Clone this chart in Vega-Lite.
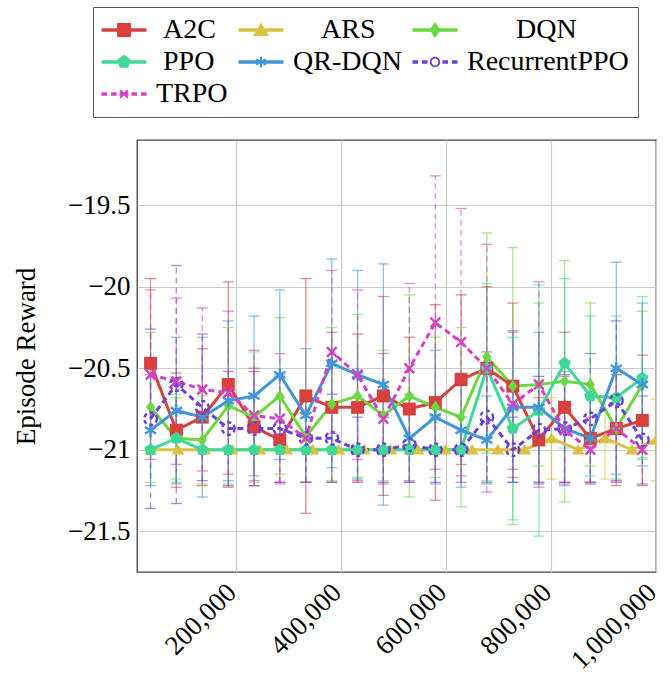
{
"$schema": "https://vega.github.io/schema/vega-lite/v6.json",
"width": 519, "height": 432,
"autosize": {"type": "none"},
"padding": {"left": 137, "top": 140, "right": 15, "bottom": 103},
"background": "white",
"config": {"view": {"stroke": "#444444", "strokeWidth": 1.3}},
"datasets": {"d": [
{"a":"A2C","s":38000,"r":-20.47,"lo":-20.99,"hi":-19.95},
{"a":"A2C","s":87000,"r":-20.88,"lo":-21.23,"hi":-20.53},
{"a":"A2C","s":136500,"r":-20.80,"lo":-21.22,"hi":-20.38},
{"a":"A2C","s":186000,"r":-20.60,"lo":-21.23,"hi":-19.97},
{"a":"A2C","s":235000,"r":-20.86,"lo":-21.22,"hi":-20.50},
{"a":"A2C","s":284000,"r":-20.94,"lo":-21.20,"hi":-20.68},
{"a":"A2C","s":333500,"r":-20.67,"lo":-21.39,"hi":-19.95},
{"a":"A2C","s":383000,"r":-20.74,"lo":-21.20,"hi":-20.28},
{"a":"A2C","s":432000,"r":-20.74,"lo":-21.19,"hi":-20.29},
{"a":"A2C","s":481000,"r":-20.67,"lo":-21.28,"hi":-20.06},
{"a":"A2C","s":530500,"r":-20.75,"lo":-21.19,"hi":-20.31},
{"a":"A2C","s":580000,"r":-20.71,"lo":-21.31,"hi":-20.11},
{"a":"A2C","s":629000,"r":-20.57,"lo":-21.09,"hi":-20.05},
{"a":"A2C","s":678000,"r":-20.50,"lo":-21.00,"hi":-20.00},
{"a":"A2C","s":727500,"r":-20.61,"lo":-21.12,"hi":-20.10},
{"a":"A2C","s":777000,"r":-20.94,"lo":-21.20,"hi":-20.68},
{"a":"A2C","s":826000,"r":-20.74,"lo":-21.20,"hi":-20.28},
{"a":"A2C","s":875000,"r":-20.93,"lo":-21.20,"hi":-20.66},
{"a":"A2C","s":924500,"r":-20.87,"lo":-21.22,"hi":-20.52},
{"a":"A2C","s":974000,"r":-20.82,"lo":-21.22,"hi":-20.42},
{"a":"ARS","s":38000,"r":-21,"lo":-21,"hi":-21},
{"a":"ARS","s":90000,"r":-21,"lo":-21,"hi":-21},
{"a":"ARS","s":141000,"r":-21,"lo":-21,"hi":-21},
{"a":"ARS","s":193000,"r":-21,"lo":-21,"hi":-21},
{"a":"ARS","s":246000,"r":-21,"lo":-21,"hi":-21},
{"a":"ARS","s":297000,"r":-21,"lo":-21,"hi":-21},
{"a":"ARS","s":347000,"r":-21,"lo":-21,"hi":-21},
{"a":"ARS","s":396000,"r":-21,"lo":-21,"hi":-21},
{"a":"ARS","s":445000,"r":-21,"lo":-21,"hi":-21},
{"a":"ARS","s":495000,"r":-21,"lo":-21,"hi":-21},
{"a":"ARS","s":547000,"r":-21,"lo":-21,"hi":-21},
{"a":"ARS","s":599000,"r":-21,"lo":-21,"hi":-21},
{"a":"ARS","s":650000,"r":-21,"lo":-21,"hi":-21},
{"a":"ARS","s":699000,"r":-21,"lo":-21,"hi":-21},
{"a":"ARS","s":750000,"r":-21,"lo":-21,"hi":-21},
{"a":"ARS","s":801000,"r":-20.93,"lo":-21.18,"hi":-20.68},
{"a":"ARS","s":852000,"r":-21,"lo":-21,"hi":-21},
{"a":"ARS","s":903000,"r":-20.93,"lo":-21.18,"hi":-20.68},
{"a":"ARS","s":954000,"r":-21,"lo":-21,"hi":-21},
{"a":"ARS","s":1000000,"r":-20.94,"lo":-21.19,"hi":-20.69},
{"a":"DQN","s":38000,"r":-20.74,"lo":-21.20,"hi":-20.28},
{"a":"DQN","s":87000,"r":-20.93,"lo":-21.18,"hi":-20.68},
{"a":"DQN","s":136500,"r":-20.94,"lo":-21.21,"hi":-20.67},
{"a":"DQN","s":186000,"r":-20.73,"lo":-21.21,"hi":-20.25},
{"a":"DQN","s":235000,"r":-20.80,"lo":-21.20,"hi":-20.40},
{"a":"DQN","s":284000,"r":-20.67,"lo":-21.15,"hi":-20.19},
{"a":"DQN","s":333500,"r":-20.92,"lo":-21.20,"hi":-20.64},
{"a":"DQN","s":383000,"r":-20.72,"lo":-21.19,"hi":-20.25},
{"a":"DQN","s":432000,"r":-20.67,"lo":-21.17,"hi":-20.17},
{"a":"DQN","s":481000,"r":-20.79,"lo":-21.19,"hi":-20.39},
{"a":"DQN","s":530500,"r":-20.67,"lo":-21.29,"hi":-20.05},
{"a":"DQN","s":580000,"r":-20.74,"lo":-21.17,"hi":-20.31},
{"a":"DQN","s":629000,"r":-20.80,"lo":-21.35,"hi":-20.25},
{"a":"DQN","s":678000,"r":-20.43,"lo":-21.19,"hi":-19.67},
{"a":"DQN","s":727500,"r":-20.61,"lo":-21.46,"hi":-19.76},
{"a":"DQN","s":777000,"r":-20.60,"lo":-21.10,"hi":-20.10},
{"a":"DQN","s":826000,"r":-20.58,"lo":-21.32,"hi":-19.84},
{"a":"DQN","s":875000,"r":-20.60,"lo":-21.10,"hi":-20.10},
{"a":"DQN","s":924500,"r":-20.87,"lo":-21.20,"hi":-20.54},
{"a":"DQN","s":974000,"r":-20.60,"lo":-21.05,"hi":-20.15},
{"a":"PPO","s":38000,"r":-21,"lo":-21,"hi":-21},
{"a":"PPO","s":87000,"r":-20.93,"lo":-21.20,"hi":-20.66},
{"a":"PPO","s":136500,"r":-21,"lo":-21,"hi":-21},
{"a":"PPO","s":186000,"r":-21,"lo":-21,"hi":-21},
{"a":"PPO","s":235000,"r":-21,"lo":-21,"hi":-21},
{"a":"PPO","s":284000,"r":-21,"lo":-21,"hi":-21},
{"a":"PPO","s":333500,"r":-21,"lo":-21,"hi":-21},
{"a":"PPO","s":383000,"r":-21,"lo":-21,"hi":-21},
{"a":"PPO","s":432000,"r":-21,"lo":-21,"hi":-21},
{"a":"PPO","s":481000,"r":-21,"lo":-21,"hi":-21},
{"a":"PPO","s":530500,"r":-21,"lo":-21,"hi":-21},
{"a":"PPO","s":580000,"r":-21,"lo":-21,"hi":-21},
{"a":"PPO","s":629000,"r":-21,"lo":-21,"hi":-21},
{"a":"PPO","s":678000,"r":-20.50,"lo":-21.02,"hi":-19.98},
{"a":"PPO","s":727500,"r":-20.87,"lo":-21.43,"hi":-20.31},
{"a":"PPO","s":777000,"r":-20.76,"lo":-21.53,"hi":-19.99},
{"a":"PPO","s":826000,"r":-20.47,"lo":-20.99,"hi":-19.95},
{"a":"PPO","s":875000,"r":-20.67,"lo":-21.16,"hi":-20.18},
{"a":"PPO","s":924500,"r":-20.68,"lo":-21.18,"hi":-20.18},
{"a":"PPO","s":974000,"r":-20.56,"lo":-21.06,"hi":-20.06},
{"a":"QR-DQN","s":38000,"r":-20.88,"lo":-21.22,"hi":-20.54},
{"a":"QR-DQN","s":87000,"r":-20.76,"lo":-21.21,"hi":-20.31},
{"a":"QR-DQN","s":136500,"r":-20.80,"lo":-21.29,"hi":-20.31},
{"a":"QR-DQN","s":186000,"r":-20.70,"lo":-21.19,"hi":-20.21},
{"a":"QR-DQN","s":235000,"r":-20.67,"lo":-21.16,"hi":-20.18},
{"a":"QR-DQN","s":284000,"r":-20.54,"lo":-21.06,"hi":-20.02},
{"a":"QR-DQN","s":333500,"r":-20.79,"lo":-21.20,"hi":-20.38},
{"a":"QR-DQN","s":383000,"r":-20.47,"lo":-21.11,"hi":-19.83},
{"a":"QR-DQN","s":432000,"r":-20.54,"lo":-21.18,"hi":-19.90},
{"a":"QR-DQN","s":481000,"r":-20.60,"lo":-21.34,"hi":-19.86},
{"a":"QR-DQN","s":530500,"r":-20.93,"lo":-21.20,"hi":-20.66},
{"a":"QR-DQN","s":580000,"r":-20.80,"lo":-21.21,"hi":-20.39},
{"a":"QR-DQN","s":629000,"r":-20.88,"lo":-21.23,"hi":-20.53},
{"a":"QR-DQN","s":678000,"r":-20.94,"lo":-21.21,"hi":-20.67},
{"a":"QR-DQN","s":727500,"r":-20.74,"lo":-21.20,"hi":-20.28},
{"a":"QR-DQN","s":777000,"r":-20.74,"lo":-21.20,"hi":-20.28},
{"a":"QR-DQN","s":826000,"r":-20.87,"lo":-21.22,"hi":-20.52},
{"a":"QR-DQN","s":875000,"r":-20.93,"lo":-21.20,"hi":-20.66},
{"a":"QR-DQN","s":924500,"r":-20.50,"lo":-21.15,"hi":-19.85},
{"a":"QR-DQN","s":974000,"r":-20.60,"lo":-21.10,"hi":-20.10},
{"a":"RecurrentPPO","s":38000,"r":-20.81,"lo":-21.36,"hi":-20.26},
{"a":"RecurrentPPO","s":87000,"r":-20.60,"lo":-21.33,"hi":-19.87},
{"a":"RecurrentPPO","s":136500,"r":-20.74,"lo":-21.19,"hi":-20.29},
{"a":"RecurrentPPO","s":186000,"r":-20.87,"lo":-21.22,"hi":-20.52},
{"a":"RecurrentPPO","s":235000,"r":-20.87,"lo":-21.22,"hi":-20.52},
{"a":"RecurrentPPO","s":284000,"r":-20.87,"lo":-21.20,"hi":-20.54},
{"a":"RecurrentPPO","s":333500,"r":-20.93,"lo":-21.20,"hi":-20.66},
{"a":"RecurrentPPO","s":383000,"r":-20.93,"lo":-21.20,"hi":-20.66},
{"a":"RecurrentPPO","s":432000,"r":-21.00,"lo":-21.20,"hi":-20.80},
{"a":"RecurrentPPO","s":481000,"r":-21.00,"lo":-21.20,"hi":-20.80},
{"a":"RecurrentPPO","s":530500,"r":-20.97,"lo":-21.20,"hi":-20.74},
{"a":"RecurrentPPO","s":580000,"r":-21.00,"lo":-21.20,"hi":-20.80},
{"a":"RecurrentPPO","s":629000,"r":-21.00,"lo":-21.20,"hi":-20.80},
{"a":"RecurrentPPO","s":678000,"r":-20.80,"lo":-21.20,"hi":-20.40},
{"a":"RecurrentPPO","s":727500,"r":-21.00,"lo":-21.20,"hi":-20.80},
{"a":"RecurrentPPO","s":777000,"r":-20.88,"lo":-21.21,"hi":-20.55},
{"a":"RecurrentPPO","s":826000,"r":-20.87,"lo":-21.20,"hi":-20.54},
{"a":"RecurrentPPO","s":875000,"r":-20.81,"lo":-21.21,"hi":-20.41},
{"a":"RecurrentPPO","s":924500,"r":-20.70,"lo":-21.19,"hi":-20.21},
{"a":"RecurrentPPO","s":974000,"r":-20.94,"lo":-21.21,"hi":-20.67},
{"a":"TRPO","s":38000,"r":-20.54,"lo":-21.06,"hi":-20.02},
{"a":"TRPO","s":87000,"r":-20.58,"lo":-21.09,"hi":-20.07},
{"a":"TRPO","s":136500,"r":-20.63,"lo":-21.13,"hi":-20.13},
{"a":"TRPO","s":186000,"r":-20.65,"lo":-21.15,"hi":-20.15},
{"a":"TRPO","s":235000,"r":-20.79,"lo":-21.19,"hi":-20.39},
{"a":"TRPO","s":284000,"r":-20.81,"lo":-21.21,"hi":-20.41},
{"a":"TRPO","s":333500,"r":-20.93,"lo":-21.20,"hi":-20.66},
{"a":"TRPO","s":383000,"r":-20.40,"lo":-20.90,"hi":-19.90},
{"a":"TRPO","s":432000,"r":-20.54,"lo":-21.06,"hi":-20.02},
{"a":"TRPO","s":481000,"r":-20.81,"lo":-21.21,"hi":-20.41},
{"a":"TRPO","s":530500,"r":-20.50,"lo":-21.02,"hi":-19.98},
{"a":"TRPO","s":580000,"r":-20.22,"lo":-21.12,"hi":-19.32},
{"a":"TRPO","s":629000,"r":-20.34,"lo":-21.16,"hi":-19.52},
{"a":"TRPO","s":678000,"r":-20.50,"lo":-21.26,"hi":-19.74},
{"a":"TRPO","s":727500,"r":-20.72,"lo":-21.17,"hi":-20.27},
{"a":"TRPO","s":777000,"r":-20.60,"lo":-21.23,"hi":-19.97},
{"a":"TRPO","s":826000,"r":-20.88,"lo":-21.21,"hi":-20.55},
{"a":"TRPO","s":875000,"r":-21.00,"lo":-21.20,"hi":-20.80},
{"a":"TRPO","s":924500,"r":-20.87,"lo":-21.20,"hi":-20.54},
{"a":"TRPO","s":974000,"r":-21.00,"lo":-21.00,"hi":-21.00}
]},
"data": {"name": "d"},
"encoding": {
  "x": {"field": "s", "type": "quantitative",
    "scale": {"domain": [12200, 1000000], "nice": false, "zero": false},
    "axis": {"values": [200000, 400000, 600000, 800000, 1000000], "format": ",d", "labelAngle": -45, "labelAlign": "right", "labelBaseline": "middle",
      "grid": true, "gridColor": "#cccccc", "gridWidth": 1.2, "domain": false, "ticks": false,
      "labelFont": "Liberation Serif", "labelFontSize": 27, "labelColor": "black", "labelPadding": 16, "labelOffset": -4, "title": null}}
},
"layer": [
  {"mark": {"type": "point", "filled": true, "opacity": 0},
   "encoding": {
     "y": {"field": "r", "type": "quantitative", "scale": {"domain": [-21.75, -19.1], "nice": false, "zero": false},
       "axis": {"values": [-21.5, -21, -20.5, -20, -19.5], "format": "~f", "title": "Episode Reward", "grid": true, "gridColor": "#cccccc", "gridWidth": 1.2, "domain": false, "ticks": false,
         "labelFont": "Liberation Serif", "labelFontSize": 27, "labelColor": "black", "labelPadding": 7,
         "titleFont": "Liberation Serif", "titleFontSize": 27, "titleFontWeight": "normal", "titleColor": "black", "titlePadding": 27}},
     "color": {"field": "a", "type": "nominal",
       "scale": {"domain": ["A2C","ARS","DQN","PPO","QR-DQN","RecurrentPPO","TRPO"],
                 "range": ["#d84040","#d8c240","#6bd840","#40d896","#4096d8","#6b40d8","#d840c1"]},
       "legend": {"orient": "none", "legendX": -44, "legendY": -133, "direction": "horizontal", "columns": 3,
         "title": null, "labelFont": "Liberation Serif", "labelFontSize": 28, "labelColor": "black", "labelLimit": 400,
         "labelExpr": "datum.label === 'A2C' || datum.label === 'PPO' ? '\u200b\u00a0' + datum.label : datum.label === 'ARS' ? '\u200b\u00a0\u00a0\u00a0\u00a0' + datum.label : datum.label === 'DQN' ? '\u200b\u00a0\u00a0\u00a0\u00a0\u00a0\u00a0\u00a0' + datum.label : datum.label",
         "labelOffset": 18, "symbolOffset": 8, "symbolSize": 400, "symbolStrokeWidth": 0, "symbolOpacity": 1,
         "strokeColor": "#555555", "fillColor": "white", "padding": 9, "rowPadding": 4, "columnPadding": 10}},
     "shape": {"field": "a", "type": "nominal",
       "scale": {"domain": ["A2C","ARS","DQN","PPO","QR-DQN","RecurrentPPO","TRPO"],
         "range": [
           "M-2.25,-0.18H2.25V0.18H-2.25Z M-0.7,-0.7H0.7V0.7H-0.7Z",
           "M-2.25,-0.18H2.25V0.18H-2.25Z M0,-0.75L0.8,0.6H-0.8Z",
           "M-2.25,-0.18H2.25V0.18H-2.25Z M0,-0.8L0.55,0L0,0.8L-0.55,0Z",
           "M-2.25,-0.18H2.25V0.18H-2.25Z M0,-0.72L0.685,-0.222L0.423,0.582L-0.423,0.582L-0.685,-0.222Z",
           "M-2.25,-0.18H2.25V0.18H-2.25Z M0.1,-0.55V0.55H-0.1V-0.55Z M-0.426,-0.362L0.526,0.188L0.426,0.362L-0.526,-0.188Z M-0.526,0.188L0.426,-0.362L0.526,-0.188L-0.426,0.362Z",
           "M-2.25,-0.18H-1.7V0.18H-2.25Z M-1.3,-0.18H-0.75V0.18H-1.3Z M0.75,-0.18H1.3V0.18H0.75Z M1.7,-0.18H2.25V0.18H1.7Z M0.52,0A0.52,0.52 0 1 1 -0.52,0A0.52,0.52 0 1 1 0.52,0Z M0.34,0A0.34,0.34 0 1 0 -0.34,0A0.34,0.34 0 1 0 0.34,0Z",
           "M-2.25,-0.18H-1.7V0.18H-2.25Z M-1.3,-0.18H-0.75V0.18H-1.3Z M-0.45,-0.18H0.45V0.18H-0.45Z M0.75,-0.18H1.3V0.18H0.75Z M1.7,-0.18H2.25V0.18H1.7Z M-0.318,-0.46L0.46,0.318L0.318,0.46L-0.46,-0.318Z M-0.46,0.318L0.318,-0.46L0.46,-0.318L-0.318,0.46Z"]},
       "legend": {"orient": "none", "legendX": -44, "legendY": -133, "direction": "horizontal", "columns": 3,
         "title": null, "labelFont": "Liberation Serif", "labelFontSize": 28, "labelColor": "black", "labelLimit": 400,
         "labelExpr": "datum.label === 'A2C' || datum.label === 'PPO' ? '\u200b\u00a0' + datum.label : datum.label === 'ARS' ? '\u200b\u00a0\u00a0\u00a0\u00a0' + datum.label : datum.label === 'DQN' ? '\u200b\u00a0\u00a0\u00a0\u00a0\u00a0\u00a0\u00a0' + datum.label : datum.label",
         "labelOffset": 18, "symbolOffset": 8, "symbolSize": 400, "symbolStrokeWidth": 0, "symbolOpacity": 1,
         "strokeColor": "#555555", "fillColor": "white", "padding": 9, "rowPadding": 4, "columnPadding": 10}}
   }},
  {"transform": [{"filter": "datum.hi > datum.lo"}],
   "mark": {"type": "rule", "strokeWidth": 1.3, "opacity": 0.6, "clip": true},
   "encoding": {
     "y": {"field": "lo", "type": "quantitative", "title": "Episode Reward"},
     "y2": {"field": "hi"},
     "color": {"field": "a", "type": "nominal", "legend": null},
     "strokeDash": {"field": "a", "type": "nominal", "legend": null,
       "scale": {"domain": ["A2C","ARS","DQN","PPO","QR-DQN","RecurrentPPO","TRPO"], "range": [[1,0],[1,0],[1,0],[1,0],[1,0],[6,4],[6,4]]}}
   }},
  {"transform": [{"filter": "datum.hi > datum.lo"}],
   "mark": {"type": "tick", "orient": "horizontal", "size": 11, "thickness": 1.3, "opacity": 0.6, "clip": true},
   "encoding": {"y": {"field": "lo", "type": "quantitative", "title": "Episode Reward"},
     "color": {"field": "a", "type": "nominal", "legend": null}}},
  {"transform": [{"filter": "datum.hi > datum.lo"}],
   "mark": {"type": "tick", "orient": "horizontal", "size": 11, "thickness": 1.3, "opacity": 0.6, "clip": true},
   "encoding": {"y": {"field": "hi", "type": "quantitative", "title": "Episode Reward"},
     "color": {"field": "a", "type": "nominal", "legend": null}}},
  {"mark": {"type": "line", "strokeWidth": 3, "clip": true},
   "encoding": {
     "y": {"field": "r", "type": "quantitative", "title": "Episode Reward"},
     "color": {"field": "a", "type": "nominal", "legend": null},
     "strokeDash": {"field": "a", "type": "nominal", "legend": null}
   }},
  {"transform": [{"filter": "datum.a === 'A2C'"}],
   "mark": {"type": "point", "shape": "square", "filled": true, "opacity": 1, "size": 169, "clip": true},
   "encoding": {"y": {"field": "r", "type": "quantitative", "title": "Episode Reward"}, "color": {"field": "a", "type": "nominal", "legend": null}}},
  {"transform": [{"filter": "datum.a === 'ARS'"}],
   "mark": {"type": "point", "shape": "M0,-0.9L1,0.75H-1Z", "filled": true, "opacity": 1, "size": 169, "clip": true},
   "encoding": {"y": {"field": "r", "type": "quantitative", "title": "Episode Reward"}, "color": {"field": "a", "type": "nominal", "legend": null}}},
  {"transform": [{"filter": "datum.a === 'DQN'"}],
   "mark": {"type": "point", "shape": "M0,-1L0.7,0L0,1L-0.7,0Z", "filled": true, "opacity": 1, "size": 169, "clip": true},
   "encoding": {"y": {"field": "r", "type": "quantitative", "title": "Episode Reward"}, "color": {"field": "a", "type": "nominal", "legend": null}}},
  {"transform": [{"filter": "datum.a === 'PPO'"}],
   "mark": {"type": "point", "shape": "M0,-1L0.951,-0.309L0.588,0.809L-0.588,0.809L-0.951,-0.309Z", "filled": true, "opacity": 1, "size": 169, "clip": true},
   "encoding": {"y": {"field": "r", "type": "quantitative", "title": "Episode Reward"}, "color": {"field": "a", "type": "nominal", "legend": null}}},
  {"transform": [{"filter": "datum.a === 'QR-DQN'"}],
   "mark": {"type": "point", "shape": "M0,-1L0,1M-0.866,-0.5L0.866,0.5M-0.866,0.5L0.866,-0.5", "filled": false, "opacity": 1, "size": 169, "strokeWidth": 2.4, "clip": true},
   "encoding": {"y": {"field": "r", "type": "quantitative", "title": "Episode Reward"}, "color": {"field": "a", "type": "nominal", "legend": null}}},
  {"transform": [{"filter": "datum.a === 'RecurrentPPO'"}],
   "mark": {"type": "point", "shape": "circle", "filled": false, "opacity": 1, "size": 160, "strokeWidth": 2.4, "strokeDash": [4, 3], "clip": true},
   "encoding": {"y": {"field": "r", "type": "quantitative", "title": "Episode Reward"}, "color": {"field": "a", "type": "nominal", "legend": null}}},
  {"transform": [{"filter": "datum.a === 'TRPO'"}],
   "mark": {"type": "point", "shape": "M-0.75,-0.75L0.75,0.75M-0.75,0.75L0.75,-0.75", "filled": false, "opacity": 1, "size": 169, "strokeWidth": 2.4, "clip": true},
   "encoding": {"y": {"field": "r", "type": "quantitative", "title": "Episode Reward"}, "color": {"field": "a", "type": "nominal", "legend": null}}}
]
}
